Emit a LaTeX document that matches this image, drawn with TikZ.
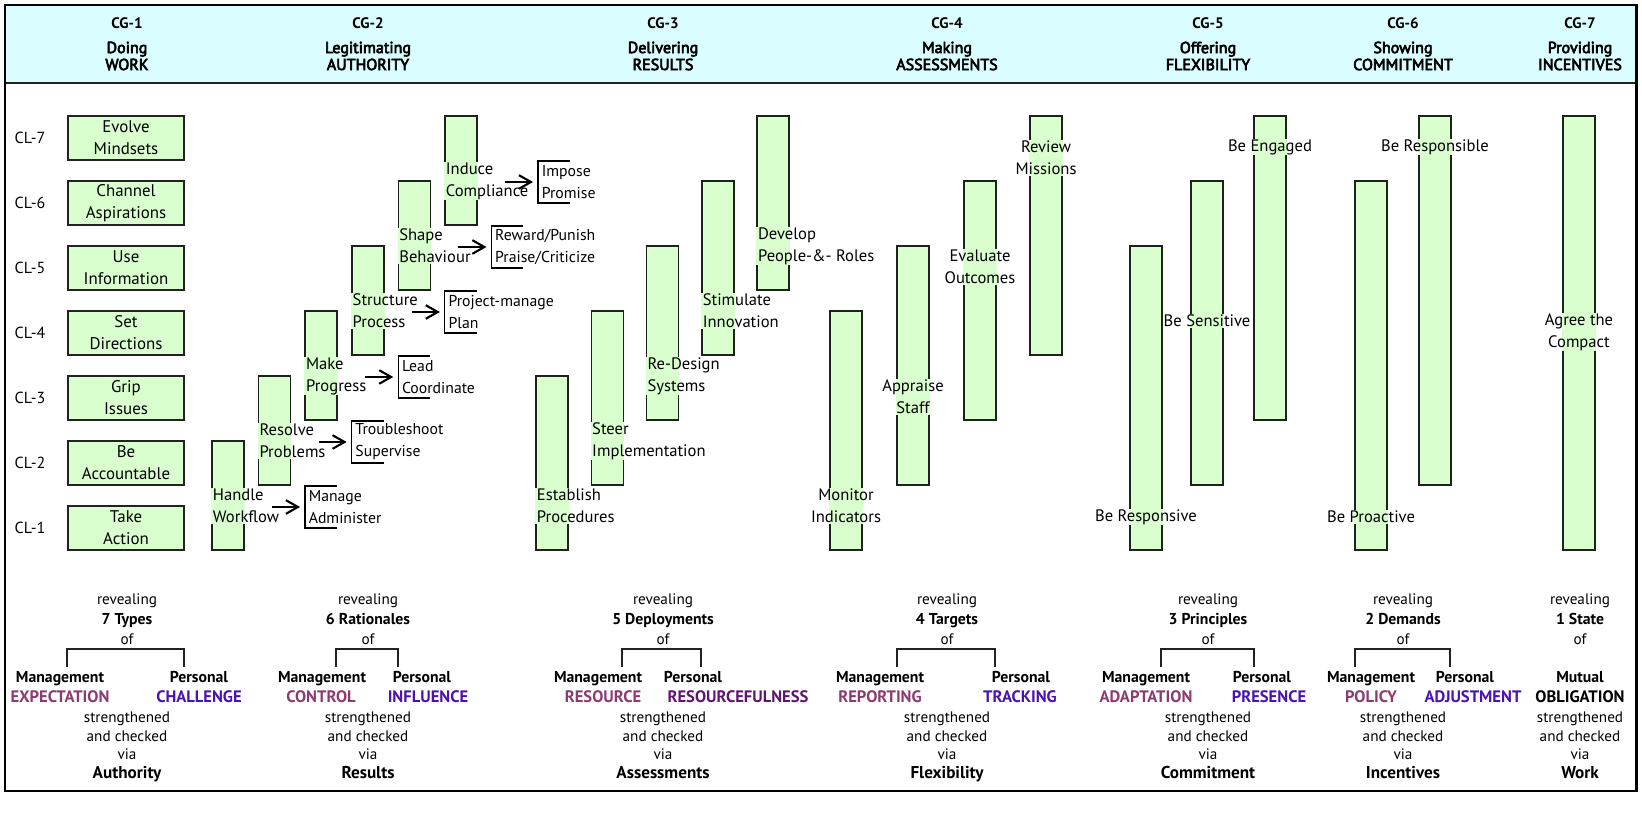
\documentclass[tikz,border=0pt]{standalone}
\usepackage{fontspec}
\setmainfont{PT Sans}
\newfontfamily\headfont[FakeBold=4]{PT Sans}
\usepackage{tikz}
\usetikzlibrary{calc,arrows.meta,positioning,fit}

\definecolor{headcyan}{RGB}{218,254,255}
\definecolor{barmint}{RGB}{218,255,206}
\definecolor{mgmtplum}{RGB}{140,58,112}
\definecolor{persviolet}{RGB}{74,18,176}
\definecolor{fullpurple}{RGB}{96,20,112}
\definecolor{edgegray}{RGB}{34,34,34}

\begin{document}
\begin{tikzpicture}[x=0.025cm,y=-0.025cm]

  % Parameters
  \def\barw{32}
  \def\rowh{65}
  \def\rowone{528}

  % Styles
  \tikzstyle{frame}=[draw=black,line width=2.1pt]
  \tikzstyle{head}=[fill=headcyan]
  \tikzstyle{headline}=[draw=edgegray,line width=1.1pt]
  \tikzstyle{cglabel}=[font=\fontsize{10.8}{12}\selectfont\bfseries,inner sep=0pt]
  \tikzstyle{cgname}=[font=\headfont\fontsize{11.4}{12.1}\selectfont,align=center,inner sep=0pt]
  \tikzstyle{cl}=[font=\fontsize{11.4}{14}\selectfont,inner sep=0pt]
  \tikzstyle{lvl}=[draw=edgegray,line width=1.1pt,fill=barmint,align=center,minimum width=82.5pt,minimum height=31.3pt,font=\fontsize{12}{15.6}\selectfont,inner sep=0pt]
  \tikzstyle{barline}=[draw=edgegray,line width=1.1pt,inner sep=0pt]
  \tikzstyle{bartext}=[fill=white,font=\fontsize{11.8}{15.6}\selectfont,inner ysep=0.5pt]
  \tikzstyle{text-west}=[anchor=west,align=left,xshift=-2pt,inner xsep=3pt]
  \tikzstyle{text-center}=[anchor=center,align=center,inner xsep=0.3pt]
  \tikzstyle{barfill}=[fill=barmint,blend mode=multiply]
  \tikzstyle{tag}=[anchor=west,align=left,font=\fontsize{11.2}{15.6}\selectfont,inner xsep=2.5pt,inner ysep=0pt]
  \tikzstyle{tagline}=[draw=black,line width=0.8pt]
  \tikzstyle{stepto}=[-{Straight Barb[length=3mm,width=3.4mm]},line width=1.5pt,shorten >=3.5pt]
  \tikzstyle{fork}=[draw=edgegray,line width=1.1pt]
  \tikzstyle{foot}=[font=\fontsize{10.8}{13.2}\selectfont,align=center,anchor=base,inner sep=0pt]
  \tikzstyle{footbold}=[font=\fontsize{11.2}{13}\selectfont\bfseries,anchor=base,inner sep=0pt]
  \tikzstyle{footcap}=[font=\fontsize{11.8}{14}\selectfont\bfseries,anchor=base,inner sep=0pt]
  \tikzstyle{footbig}=[font=\fontsize{12.2}{14}\selectfont\bfseries,anchor=base,inner sep=0pt]

  % \lvlbar{<id>}{<x-left>}{<top-level>}{<bottom-level>}{<text-y>}{<text>}[<anchor>]
  \DeclareDocumentCommand \lvlbar { m m m m m m O{west} }{%
    \pgfmathsetmacro\xl{#2}
    \pgfmathsetmacro\xr{#2+\barw}
    \pgfmathsetmacro\yt{\rowone-\rowh*(#3-1)-22}
    \pgfmathsetmacro\yb{\rowone-\rowh*(#4-1)+22}
    \pgfmathsetmacro\ty{#5}
    \node[barline,fit={(\xl,\yt) (\xr,\yb)}] (bar-#1) {};
    \coordinate (ty-#1) at (\xl,\ty);
    \node[bartext,text-#7] (txt-#1) at (bar-#1.#7 |- ty-#1) {#6};
    \fill[barfill] (bar-#1.south west) rectangle (bar-#1.north east);
  }

  % \steptag{<id>}{<x>}{<y>}{<text>}
  \DeclareDocumentCommand \steptag { m m m m }{%
    \pgfmathsetmacro\tx{#2}
    \pgfmathsetmacro\ty{#3}
    \node[tag] (tag-#1) at (\tx,\ty) {#4};
    \draw[tagline] ($(tag-#1.west)+(\barw,-21)$) -| ($(tag-#1.west)+(0,21)$) -- ++(\barw,0);
    \draw[stepto] ($(tag-#1.west)+(-33,0)$) -- (tag-#1.west);
  }

  % \reveal{<id>}{<x>}{<count>}{<via>}
  \DeclareDocumentCommand \reveal { m m m m }{%
    \node[foot] (rev-#1) at (#2,604) {revealing};
    \node[footbold] (cnt-#1) at (#2,624) {#3};
    \node[foot] (of-#1) at (#2,644) {of};
    \node[foot,anchor=center] (chk-#1) at (#2,736) {strengthened\\and checked\\via};
    \node[footbig] (via-#1) at (#2,778) {#4};
  }

  % \pair{<id>}{<x-mgmt>}{<x-pers>}{<mgmt-word>}{<x>}{<pers-word>}{<x>}[<colour>]
  \DeclareDocumentCommand \pair { m m m m m m m O{persviolet} }{%
    \node[footbold] (mgmt-#1) at (#2,682) {Management};
    \node[footbold] (pers-#1) at (#3,682) {Personal};
    \node[footcap,text=mgmtplum] (mword-#1) at (#5,702) {#4};
    \node[footcap,text=#8] (pword-#1) at (#7,702) {#6};
  }

  % ===========================================================================

  \useasboundingbox (0,0) rectangle (1642,819);

  % Header band
  \fill[head] (5,5) rectangle (1636,83);
  \draw[headline] (5,83) -- (1636,83);
  \foreach \x/\n/\gerund/\domain in {127/1/Doing/WORK,368/2/Legitimating/AUTHORITY,663/3/Delivering/RESULTS,947/4/Making/ASSESSMENTS,1208/5/Offering/FLEXIBILITY,1403/6/Showing/COMMITMENT,1580/7/Providing/INCENTIVES}{
    \node[cglabel] (cg-\n) at (\x,23) {CG-\n};
    \node[cgname] (cgname-\n) at (\x,56) {\gerund\\\domain};
  }

  % Levels and work boxes
  \foreach \n/\txt in {7/{Evolve\\Mindsets},6/{Channel\\Aspirations},5/{Use\\Information},4/{Set\\Directions},3/{Grip\\Issues},2/{Be\\Accountable},1/{Take\\Action}}{
    \pgfmathsetmacro\ly{\rowone-\rowh*(\n-1)}
    \node[cl] (cl-\n) at (30,\ly) {CL-\n};
    \node[lvl] (lvl-\n) at (126,\ly) {\txt};
  }

  % CG-2 authority steps
  \foreach \k/\txt in {1/{Handle\\Workflow},2/{Resolve\\Problems},3/{Make\\Progress},4/{Structure\\Process},5/{Shape\\Behaviour},6/{Induce\\Compliance}}
    \lvlbar{a\k}{212+46.6*(\k-1)}{\k+1}{\k}{506-65*(\k-1)}{\txt};
  \foreach \k/\txt in {1/{Manage\\Administer},2/{Troubleshoot\\Supervise},3/{Lead\\Coordinate},4/{Project-manage\\Plan},5/{Reward/Punish\\Praise/Criticize},6/{Impose\\Promise}}
    \steptag{a\k}{305+46.6*(\k-1)}{507-65*(\k-1)}{\txt};

  % CG-3 results
  \foreach \k/\txt in {1/{Establish\\Procedures},2/{Steer\\Implementation},3/{Re-Design\\Systems},4/{Stimulate\\Innovation},5/{Develop\\People-\&- Roles}}
    \lvlbar{r\k}{536+55.3*(\k-1)}{\k+2}{\k}{506-65*(\k-1)}{\txt};

  % CG-4 assessments
  \lvlbar{s1}{830}{4}{1}{506}{Monitor\\Indicators}[center]
  \lvlbar{s2}{897}{5}{2}{397}{Appraise\\Staff}[center]
  \lvlbar{s3}{964}{6}{3}{267}{Evaluate\\Outcomes}[center]
  \lvlbar{s4}{1030}{7}{4}{158}{Review\\Missions}[center]

  % CG-5 flexibility
  \lvlbar{f2}{1191}{6}{2}{321}{Be Sensitive}[center]
  \lvlbar{f3}{1254}{7}{3}{147}{Be Engaged}[center]
  \lvlbar{f1}{1130}{5}{1}{517}{Be Responsive}[center]

  % CG-6 commitment
  \lvlbar{c1}{1355}{6}{1}{517}{Be Proactive}[center]
  \lvlbar{c2}{1419}{7}{2}{147}{Be Responsible}[center]

  % CG-7 incentives
  \lvlbar{i1}{1563}{7}{1}{332}{Agree the\\Compact}[center]

  % Footer
  \reveal{1}{127}{7 Types}{Authority}
  \reveal{2}{368}{6 Rationales}{Results}
  \reveal{3}{663}{5 Deployments}{Assessments}
  \reveal{4}{947}{4 Targets}{Flexibility}
  \reveal{5}{1208}{3 Principles}{Commitment}
  \reveal{6}{1403}{2 Demands}{Incentives}
  \reveal{7}{1580}{1 State}{Work}

  \foreach \xa/\xb in {67/184,336/398,622/701,897/995,1161/1254,1355/1450}
    \draw[fork] (\xa,667) |- (\xb,649) -- (\xb,667);

  \pair{1}{60}{199}{EXPECTATION}{60}{CHALLENGE}{199}
  \pair{2}{322}{422}{CONTROL}{321}{INFLUENCE}{428}
  \pair{3}{598}{693}{RESOURCE}{603}{RESOURCEFULNESS}{738}[fullpurple]
  \pair{4}{880}{1021}{REPORTING}{880}{TRACKING}{1020}
  \pair{5}{1146}{1262}{ADAPTATION}{1146}{PRESENCE}{1269}
  \pair{6}{1371}{1465}{POLICY}{1371}{ADJUSTMENT}{1473}
  \node[footbold] (mutual) at (1580,682) {Mutual};
  \node[footcap] (obligation) at (1580,702) {OBLIGATION};

  % Outer frame
  \draw[frame] (5,5) rectangle (1636,791);

\end{tikzpicture}
\end{document}
